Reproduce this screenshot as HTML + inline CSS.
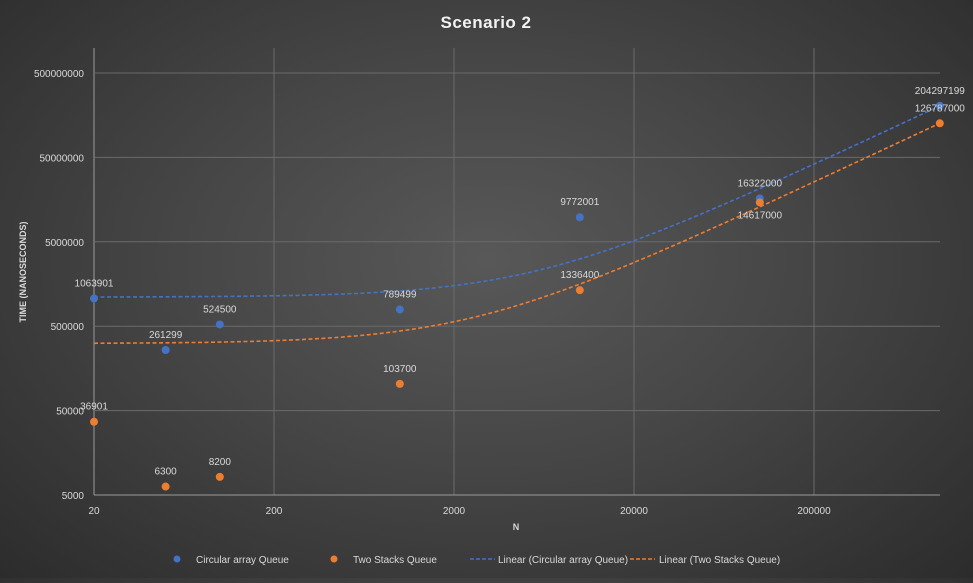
<!DOCTYPE html>
<html><head><meta charset="utf-8"><style>
html,body{margin:0;padding:0;}
body{width:973px;height:578px;overflow:hidden;background:radial-gradient(ellipse at 50% 45%,#585858 0%,#464646 45%,#2c2c2c 100%);font-family:"Liberation Sans",sans-serif;}
svg text{font-family:"Liberation Sans",sans-serif;}
</style></head><body>
<svg id="chart" width="973" height="578" xmlns="http://www.w3.org/2000/svg">
<text x="486" y="28" text-anchor="middle" font-size="17" font-weight="bold" fill="#f2f2f2" letter-spacing="0.5">Scenario 2</text>
<g id="grid"></g>
<g id="axes"></g>
<g id="trends"></g>
<g id="points"></g>
<text transform="translate(26,272) rotate(-90)" text-anchor="middle" font-size="9" font-weight="bold" fill="#d9d9d9">TIME (NANOSECONDS)</text>
<text x="516" y="530" text-anchor="middle" font-size="9" font-weight="bold" fill="#d9d9d9">N</text>
<g font-size="10" fill="#d9d9d9">
<g><circle cx="177" cy="559" r="3.5" fill="#4472c4"/><text x="196" y="563">Circular array Queue</text></g>
<g><circle cx="334" cy="559" r="3.5" fill="#ed7d31"/><text x="353" y="563">Two Stacks Queue</text></g>
<g><line x1="470" y1="559" x2="495" y2="559" stroke="#4472c4" stroke-width="1.5" stroke-dasharray="4,2"/><text x="498" y="563">Linear (Circular array Queue)</text></g>
<g><line x1="630" y1="559" x2="655" y2="559" stroke="#ed7d31" stroke-width="1.5" stroke-dasharray="4,2"/><text x="659" y="563">Linear (Two Stacks Queue)</text></g>
</g>
</svg>
<script>
const nValues = [20, 50, 100, 1000, 10000, 100000, 1000000];
const circularTimes = [1063901, 261299, 524500, 789499, 9772001, 16322000, 204297199];
const twoStacksTimes = [36901, 6300, 8200, 103700, 1336400, 14617000, 126787000];
const xTicks = [20, 200, 2000, 20000, 200000];
const yTicks = [5000, 50000, 500000, 5000000, 50000000, 500000000];
const circularLabelDy = [-12, -12, -12, -12, -12, -12, -12];
const twoStacksLabelDy = [-12, -12, -12, -12, -12, 10, -12];

const NS = "http://www.w3.org/2000/svg";
const X0 = 94, X1 = 940, YB = 495, YT = 48;
const XDEC = 180, YDEC = 84.4;
const xs = v => X0 + Math.log10(v / 20) * XDEC;
const ys = v => YB - Math.log10(v / 5000) * YDEC;
function mk(tag, attrs, parent) {
  const e = document.createElementNS(NS, tag);
  for (const k in attrs) e.setAttribute(k, attrs[k]);
  parent.appendChild(e);
  return e;
}
const grid = document.getElementById('grid'), axes = document.getElementById('axes');
xTicks.forEach(t => {
  const l = mk('line', {x1: xs(t), x2: xs(t), y1: YT, y2: YB, stroke: t === 20 ? '#9a9a9a' : '#6a6a6a', 'stroke-width': 1}, grid);
  
  
  const tx = mk('text', {x: xs(t), y: 514, 'text-anchor': 'middle', 'font-size': 10, fill: '#d9d9d9'}, axes);
  tx.textContent = t;
  
  
});
yTicks.forEach(t => {
  const l = mk('line', {x1: X0, x2: X1, y1: ys(t), y2: ys(t), stroke: t === 5000 ? '#9a9a9a' : '#6a6a6a', 'stroke-width': 1}, grid);
  
  
  const tx = mk('text', {x: 84, y: ys(t) + 4, 'text-anchor': 'end', 'font-size': 10, fill: '#d9d9d9'}, axes);
  tx.textContent = t;
  
  
});
function fit(xv, yv) {
  const n = xv.length;
  const mx = xv.reduce((a, b) => a + b) / n, my = yv.reduce((a, b) => a + b) / n;
  let sxy = 0, sxx = 0;
  for (let i = 0; i < n; i++) { sxy += (xv[i] - mx) * (yv[i] - my); sxx += (xv[i] - mx) ** 2; }
  const b = sxy / sxx;
  return [my - b * mx, b];
}
const trends = document.getElementById('trends');
[[circularTimes, '#4472c4', 'trendline-circular'], [twoStacksTimes, '#ed7d31', 'trendline-two-stacks']].forEach(([yv, col, name]) => {
  const [a, b] = fit(nValues, yv);
  const pts = [];
  const lo = Math.log10(nValues[0]), hi = Math.log10(nValues[nValues.length - 1]);
  for (let i = 0; i <= 200; i++) {
    const x = Math.pow(10, lo + (hi - lo) * i / 200);
    const y = a + b * x;
    if (y > 0) pts.push(xs(x).toFixed(1) + ',' + ys(y).toFixed(1));
  }
  const p = mk('polyline', {points: pts.join(' '), fill: 'none', stroke: col, 'stroke-width': 1.6, 'stroke-dasharray': '4,2.5'}, trends);
  
  
});
const points = document.getElementById('points');
[[circularTimes, '#4472c4', 'circular-point', circularLabelDy], [twoStacksTimes, '#ed7d31', 'two-stacks-point', twoStacksLabelDy]].forEach(([yv, col, name, dys]) => {
  yv.forEach((v, i) => {
    const c = mk('circle', {cx: xs(nValues[i]), cy: ys(v), r: 4, fill: col}, points);
    
    
    const t = mk('text', {x: xs(nValues[i]), y: ys(v) + dys[i] + (dys[i] > 0 ? 6 : 0), 'text-anchor': 'middle', 'font-size': 10, fill: '#d9d9d9'}, points);
    t.textContent = v;
    
    
  });
});
</script>
</body></html>
